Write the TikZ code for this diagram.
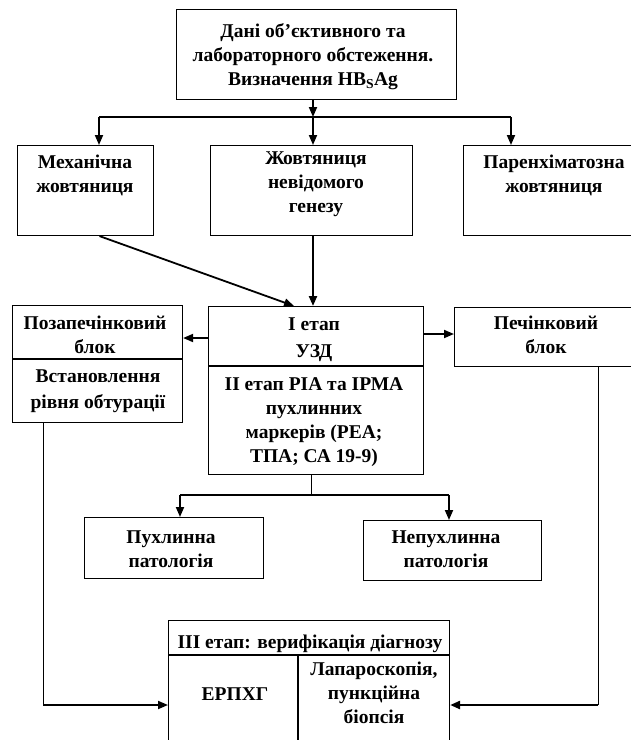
\documentclass[tikz,border=0pt]{standalone}
\usepackage{fontspec}
\setmainfont{Liberation Serif}
\usetikzlibrary{arrows.meta,calc}
\begin{document}
\begin{tikzpicture}[x=1pt,y=-1pt,
  box/.style={draw, line width=1.1pt, inner sep=0pt, anchor=north west},
  txt/.style={font=\fontsize{19.5}{24}\selectfont\bfseries, align=center, inner sep=0pt, anchor=base},
  conn/.style={line width=1.8pt, -{Triangle[length=10pt,width=8pt]}},
  thinline/.style={line width=0.9pt},
  midline/.style={line width=1.4pt}]
\useasboundingbox (0,0) rectangle (631,740);
\fill[white] (0,0) rectangle (631,740);
% boxes
\node[box, minimum width=280pt, minimum height=90pt] (top) at (176,9) {};
\node[box, minimum width=136pt, minimum height=90pt] (m1) at (17,145) {};
\node[box, minimum width=202pt, minimum height=90pt] (m2) at (210,145) {};
\node[box, minimum width=180pt, minimum height=90pt] (m3) at (463,145) {};
\node[box, minimum width=170pt, minimum height=117pt] (lb) at (12,305) {};
\node[box, minimum width=215pt, minimum height=168pt] (c) at (208,306) {};
\node[box, minimum width=190pt, minimum height=59pt] (rb) at (454,307) {};
\node[box, minimum width=179pt, minimum height=61pt] (p1) at (84,517) {};
\node[box, minimum width=178pt, minimum height=60pt] (p2) at (363,520) {};
\node[box, minimum width=281pt, minimum height=130pt] (bb) at (168,620) {};
% dividers
\draw[line width=1.1pt] ([yshift=-54pt]lb.north west) -- ([yshift=-54pt]lb.north east);
\draw[line width=1.1pt] ([yshift=-60pt]c.north west) -- ([yshift=-60pt]c.north east);
\draw[line width=1.1pt] ([yshift=-35pt]bb.north west) -- ([yshift=-35pt]bb.north east);
\coordinate (bdv) at (298,655);
\draw[line width=1.1pt] (bdv) -- (bdv |- bb.south);
% texts (anchor = baseline of the last line)
\node[txt] (ttop) at (313,85) {Дані об’єктивного та\\лабораторного обстеження.\\Визначення HB\textsubscript{S}Ag};
\node[txt] (tm1) at (85,192) {Механічна\\жовтяниця};
\node[txt] (tm2) at (316,212) {Жовтяниця\\невідомого\\генезу};
\node[txt] (tm3) at (554,192) {Паренхіматозна\\жовтяниця};
\node[txt] (tlb1) at (95,353) {Позапечінковий\\блок};
\node[txt] (tlb2) at (98,408) {Встановлення\\[2pt]рівня обтурації};
\node[txt] (tc1) at (314,357) {І етап\\[3pt]УЗД};
\node[txt] (tc2) at (314,462) {ІІ етап РІА та ІРМА\\пухлинних\\маркерів (РЕА;\\ТПА; СА 19-9)};
\node[txt] (trb) at (546,353) {Печінковий\\блок};
\node[txt] (tp1) at (171,567) {Пухлинна\\патологія};
\node[txt] (tp2) at (446,567) {Непухлинна\\патологія};
\node[txt] (tbb) at (310,648) {ІІІ етап: верифікація діагнозу};
\node[txt] (tbb1) at (235,700) {ЕРПХГ};
\node[txt] (tbb2) at (374,723) {Лапароскопія,\\пункційна\\біопсія};
% connectors
\coordinate (j) at (313,117);
\coordinate (j1) at (99,117);
\coordinate (j2) at (511,117);
\draw[conn] (top.south -| j) -- (j);
\draw[midline] (j1) -- (j2);
\draw[conn] (j1) -- (j1 |- m1.north);
\draw[conn] (j) -- (j |- m2.north);
\draw[conn] (j2) -- (j2 |- m3.north);
\draw[conn] ([xshift=14pt]m1.south) -- ([xshift=-22pt]c.north);
\draw[conn, line width=2.2pt] (m2.south -| j) -- (c.north -| j);
\draw[conn] ([yshift=-32pt]c.north west) coordinate (cl) -- (cl -| lb.east);
\draw[conn] ([yshift=-28pt]c.north east) coordinate (cr) -- (cr -| rb.west);
\coordinate (k) at (311,495);
\coordinate (k1) at (180,495);
\coordinate (k2) at (449,495);
\draw[thinline] (c.south -| k) -- (k);
\draw[midline] (k1) -- (k2);
\draw[conn] (k1) -- (k1 |- p1.north);
\draw[conn] (k2) -- (k2 |- p2.north);
\coordinate (l) at (43,705);
\coordinate (r) at (598,705);
\draw[thinline] (lb.south -| l) -- (l);
\draw[conn] (l) -- (l -| bb.west);
\draw[thinline] (rb.south -| r) -- (r);
\draw[conn, line width=2.4pt] (r) -- (r -| bb.east);
\end{tikzpicture}
\end{document}
